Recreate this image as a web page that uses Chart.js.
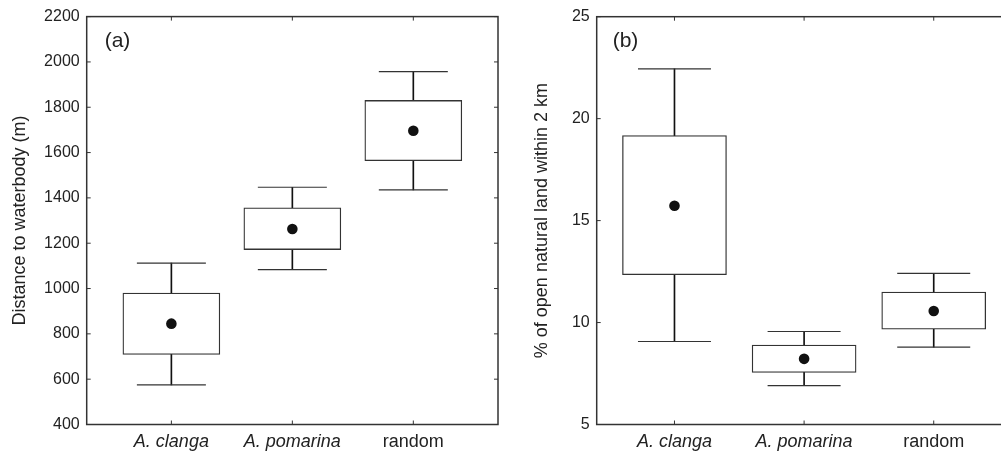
<!DOCTYPE html>
<html>
<head>
<meta charset="utf-8">
<script src="https://cdn.jsdelivr.net/npm/chart.js@4/dist/chart.umd.min.js"></script>
<style>
  body { margin: 0; background: #fff; overflow: hidden; width: 1001px; height: 454px; position: relative; }
  canvas { position: absolute; top: 0; }
  #chartA { left: 0; }
  #chartB { left: 500px; }
</style>
</head>
<body>
<canvas id="chartA" width="500" height="454"></canvas>
<canvas id="chartB" width="520" height="454"></canvas>
<script>
// categorias y si la etiqueta va en cursiva
const categorias = ['A. clanga', 'A. pomarina', 'random'];
const cursiva = [true, true, false];

// (a) distancia al cuerpo de agua (m)
const distBigoteMin = [575, 1083, 1435];
const distCajaMin = [709, 1172, 1564];
const distMedia = [845, 1263, 1696];
const distCajaMax = [980, 1356, 1830];
const distBigoteMax = [1112, 1447, 1957];
const distEje = { min: 400, max: 2200, paso: 200 };

// (b) % de terreno natural abierto en 2 km
const abiertoBigoteMin = [9.07, 6.91, 8.79];
const abiertoCajaMin = [12.35, 7.55, 9.67];
const abiertoMedia = [15.73, 8.22, 10.57];
const abiertoCajaMax = [19.17, 8.90, 11.50];
const abiertoBigoteMax = [22.44, 9.56, 12.41];
const abiertoEje = { min: 5, max: 25, paso: 5 };

const FUENTE = '"Liberation Sans", Arial, sans-serif';
const TINTA = '#222';

// marco completo con marcas hacia adentro y etiqueta del panel
const marcoPlugin = {
    id: 'marco',
    afterDraw(chart, args, opts) {
        const { ctx, chartArea: a, scales } = chart;
        ctx.save();
        ctx.strokeStyle = '#333';
        ctx.lineWidth = 1.5;
        ctx.strokeRect(a.left, a.top, a.right - a.left, a.bottom - a.top);
        ctx.lineWidth = 1;
        ctx.beginPath();
        scales.y.ticks.forEach((t, i) => {
            const y = scales.y.getPixelForTick(i);
            ctx.moveTo(a.left, y); ctx.lineTo(a.left + 4, y);
            ctx.moveTo(a.right, y); ctx.lineTo(a.right - 4, y);
        });
        scales.x.ticks.forEach((t, i) => {
            const x = scales.x.getPixelForTick(i);
            ctx.moveTo(x, a.bottom); ctx.lineTo(x, a.bottom - 4);
            ctx.moveTo(x, a.top); ctx.lineTo(x, a.top + 4);
        });
        ctx.stroke();
        ctx.fillStyle = TINTA;
        ctx.font = '21px ' + FUENTE;
        ctx.textBaseline = 'middle';
        ctx.fillText(opts.texto, a.left + opts.dx, a.top + opts.dy);
        ctx.restore();
    }
};

function crearPanel(id, d, p) {
    const aPuntos = arr => arr.map((v, i) => ({ x: i + 1, y: v }));
    const rangos = (lo, hi) => lo.map((v, i) => ({ x: i + 1, y: [v, hi[i]] }));

    return new Chart(document.getElementById(id), {
        type: 'bar',
        data: {
            datasets: [
                {   // bigotes
                    data: rangos(d.bigoteMin, d.bigoteMax),
                    backgroundColor: '#111', borderWidth: 0,
                    barThickness: 1, grouped: false, order: 4
                },
                {   // cajas
                    data: rangos(d.cajaMin, d.cajaMax),
                    backgroundColor: '#fff', borderColor: '#333', borderWidth: 1.3,
                    borderSkipped: false,
                    barThickness: p.caja, grouped: false, order: 3
                },
                {   // topes de los bigotes
                    type: 'line', showLine: false,
                    data: [...aPuntos(d.bigoteMin), ...aPuntos(d.bigoteMax)],
                    pointStyle: 'line', pointRadius: p.tope / 2,
                    pointBorderColor: '#333', pointBorderWidth: 1.2, order: 2
                },
                {   // media
                    type: 'line', showLine: false,
                    data: aPuntos(d.media),
                    pointStyle: 'circle', pointRadius: 5.3,
                    pointBackgroundColor: '#111', pointBorderWidth: 0, order: 1
                }
            ]
        },
        options: {
            responsive: false,
            animation: false,
            events: [],
            layout: { autoPadding: false, padding: { top: p.arriba, right: p.derecha, left: 0, bottom: 0 } },
            plugins: {
                legend: { display: false },
                tooltip: { enabled: false },
                marco: { texto: p.texto, dx: p.dx, dy: 25 }
            },
            scales: {
                x: {
                    type: 'linear',
                    min: p.xMin, max: p.xMax,
                    offset: false,
                    afterBuildTicks: s => { s.ticks = categorias.map((c, i) => ({ value: i + 1 })); },
                    afterFit: s => { s.height = 29.5; },
                    grid: { display: false, drawTicks: false },
                    border: { display: false },
                    ticks: {
                        autoSkip: false, maxRotation: 0, padding: 7, color: TINTA,
                        callback: v => categorias[v - 1],
                        font: c => ({ family: FUENTE, size: 18, style: cursiva[c.index] ? 'italic' : 'normal' })
                    }
                },
                y: {
                    min: d.eje.min, max: d.eje.max,
                    afterFit: s => { s.width = p.ancho; },
                    grid: { display: false, drawTicks: false },
                    border: { display: false },
                    ticks: {
                        stepSize: d.eje.paso, padding: 7, color: TINTA,
                        font: { family: FUENTE, size: 16 },
                        callback: v => String(v)
                    },
                    title: {
                        display: true, text: p.titulo, color: TINTA,
                        font: { family: FUENTE, size: 18 },
                        padding: { top: p.tituloPad, bottom: 0 }
                    }
                }
            }
        },
        plugins: [marcoPlugin]
    });
}

crearPanel('chartA', {
    bigoteMin: distBigoteMin, cajaMin: distCajaMin, media: distMedia,
    cajaMax: distCajaMax, bigoteMax: distBigoteMax, eje: distEje
}, {
    texto: '(a)', dx: 18, titulo: 'Distance to waterbody (m)', tituloPad: 9,
    xMin: 0.3, xMax: 3.7, caja: 97, tope: 69,
    ancho: 86.7, arriba: 14.7, derecha: 2
});

crearPanel('chartB', {
    bigoteMin: abiertoBigoteMin, cajaMin: abiertoCajaMin, media: abiertoMedia,
    cajaMax: abiertoCajaMax, bigoteMax: abiertoBigoteMax, eje: abiertoEje
}, {
    texto: '(b)', dx: 16, titulo: '% of open natural land within 2 km', tituloPad: 31,
    xMin: 0.4, xMax: 3.6, caja: 104, tope: 73,
    ancho: 96.7, arriba: 16.7, derecha: 8.5
});
</script>
</body>
</html>
